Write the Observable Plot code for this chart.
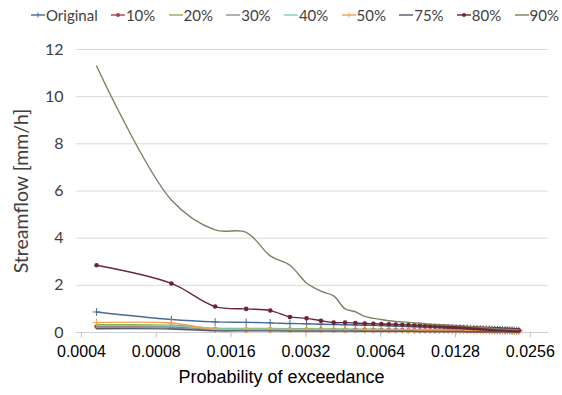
<!DOCTYPE html>
<html>
<head>
<meta charset="utf-8">
<script src="https://cdn.jsdelivr.net/npm/d3@7"></script>
<script src="https://cdn.jsdelivr.net/npm/@observablehq/plot@0.6"></script>
<style>
  html, body { margin: 0; padding: 0; background: #fff; }
  #wrap { width: 562px; height: 395px; position: relative; overflow: hidden; }
  #legend { height: 30px; display: flex; justify-content: space-between; align-items: center;
            padding: 0 3px 0 31px; box-sizing: border-box; font: 15px Lato, sans-serif; color: #404040; }
  .item { display: flex; align-items: center; white-space: nowrap; }
  .item svg { margin-right: 1px; }
</style>
</head>
<body>
<div id="wrap">
  <div id="legend"></div>
  <div id="chart"></div>
</div>
<script>
// Probability of exceedance for each ranked value
const probs = [0.00046, 0.00092, 0.00138, 0.00184, 0.0023, 0.00276, 0.00322, 0.00368, 0.00414, 0.0046,
  0.00506, 0.00552, 0.00598, 0.00644, 0.0069, 0.00736, 0.00782, 0.00828, 0.00874, 0.0092,
  0.00966, 0.01012, 0.01058, 0.01104, 0.0115, 0.01196, 0.01242, 0.01288, 0.01334, 0.0138,
  0.01426, 0.01472, 0.01518, 0.01564, 0.0161, 0.01656, 0.01702, 0.01748, 0.01794, 0.0184,
  0.01886, 0.01932, 0.01978, 0.02024, 0.0207, 0.02116, 0.02162, 0.02208, 0.02254, 0.023];

const seriesNames = ["Original", "10%", "20%", "30%", "40%", "50%", "75%", "80%", "90%"];

const original = [0.87, 0.55, 0.45, 0.43, 0.41, 0.38, 0.37, 0.35, 0.34, 0.33,
  0.32, 0.31, 0.30, 0.29, 0.28, 0.27, 0.26, 0.25, 0.245, 0.24,
  0.23, 0.22, 0.215, 0.21, 0.20, 0.195, 0.19, 0.185, 0.18, 0.175,
  0.17, 0.165, 0.16, 0.155, 0.15, 0.145, 0.14, 0.135, 0.13, 0.125,
  0.12, 0.115, 0.11, 0.105, 0.10, 0.098, 0.095, 0.092, 0.09, 0.088];
const p10 = [0.25, 0.24, 0.14, 0.13, 0.13, 0.12, 0.12, 0.12, 0.11, 0.11,
  0.11, 0.11, 0.10, 0.10, 0.10, 0.10, 0.10, 0.09, 0.09, 0.09,
  0.09, 0.09, 0.09, 0.08, 0.08, 0.08, 0.08, 0.08, 0.08, 0.08,
  0.07, 0.07, 0.07, 0.07, 0.07, 0.07, 0.07, 0.07, 0.06, 0.06,
  0.06, 0.06, 0.06, 0.06, 0.06, 0.06, 0.06, 0.05, 0.05, 0.05];
const p20 = [0.33, 0.31, 0.18, 0.17, 0.17, 0.16, 0.16, 0.15, 0.15, 0.15,
  0.14, 0.14, 0.14, 0.13, 0.13, 0.13, 0.12, 0.12, 0.12, 0.12,
  0.11, 0.11, 0.11, 0.11, 0.10, 0.10, 0.10, 0.10, 0.10, 0.09,
  0.09, 0.09, 0.09, 0.09, 0.08, 0.08, 0.08, 0.08, 0.08, 0.08,
  0.07, 0.07, 0.07, 0.07, 0.07, 0.07, 0.06, 0.06, 0.06, 0.06];
const p30 = [0.20, 0.19, 0.10, 0.09, 0.09, 0.09, 0.08, 0.08, 0.08, 0.08,
  0.07, 0.07, 0.07, 0.07, 0.07, 0.06, 0.06, 0.06, 0.06, 0.06,
  0.06, 0.05, 0.05, 0.05, 0.05, 0.05, 0.05, 0.05, 0.05, 0.04,
  0.04, 0.04, 0.04, 0.04, 0.04, 0.04, 0.04, 0.04, 0.04, 0.04,
  0.03, 0.03, 0.03, 0.03, 0.03, 0.03, 0.03, 0.03, 0.03, 0.03];
const p40 = [0.28, 0.27, 0.16, 0.15, 0.15, 0.14, 0.14, 0.13, 0.13, 0.13,
  0.12, 0.12, 0.12, 0.11, 0.11, 0.11, 0.11, 0.10, 0.10, 0.10,
  0.10, 0.09, 0.09, 0.09, 0.09, 0.09, 0.08, 0.08, 0.08, 0.08,
  0.08, 0.08, 0.07, 0.07, 0.07, 0.07, 0.07, 0.07, 0.06, 0.06,
  0.06, 0.06, 0.06, 0.06, 0.06, 0.05, 0.05, 0.05, 0.05, 0.05];
const p50 = [0.42, 0.40, 0.13, 0.13, 0.13, 0.12, 0.12, 0.12, 0.12, 0.12,
  0.12, 0.11, 0.11, 0.11, 0.11, 0.11, 0.11, 0.11, 0.10, 0.10,
  0.10, 0.10, 0.10, 0.10, 0.10, 0.09, 0.09, 0.09, 0.09, 0.09,
  0.09, 0.09, 0.08, 0.08, 0.08, 0.08, 0.08, 0.08, 0.08, 0.07,
  0.07, 0.07, 0.07, 0.07, 0.07, 0.07, 0.06, 0.06, 0.06, 0.06];
const p75 = [0.16, 0.15, 0.07, 0.07, 0.07, 0.06, 0.06, 0.06, 0.06, 0.06,
  0.06, 0.05, 0.05, 0.05, 0.05, 0.05, 0.05, 0.05, 0.05, 0.04,
  0.04, 0.04, 0.04, 0.04, 0.04, 0.04, 0.04, 0.04, 0.04, 0.04,
  0.03, 0.03, 0.03, 0.03, 0.03, 0.03, 0.03, 0.03, 0.03, 0.03,
  0.03, 0.03, 0.03, 0.02, 0.02, 0.02, 0.02, 0.02, 0.02, 0.02];
const p80 = [2.85, 2.08, 1.10, 1.00, 0.93, 0.66, 0.60, 0.50, 0.42, 0.42,
  0.40, 0.38, 0.37, 0.36, 0.35, 0.34, 0.33, 0.32, 0.31, 0.30,
  0.29, 0.28, 0.27, 0.26, 0.25, 0.24, 0.235, 0.23, 0.22, 0.21,
  0.20, 0.19, 0.185, 0.18, 0.17, 0.165, 0.16, 0.155, 0.15, 0.145,
  0.14, 0.135, 0.13, 0.125, 0.12, 0.115, 0.11, 0.105, 0.10, 0.095];
const p90 = [11.3, 5.62, 4.35, 4.25, 3.25, 2.85, 2.10, 1.75, 1.55, 1.00,
  0.88, 0.68, 0.60, 0.55, 0.50, 0.47, 0.45, 0.43, 0.41, 0.39,
  0.37, 0.35, 0.34, 0.33, 0.32, 0.31, 0.30, 0.29, 0.28, 0.27,
  0.26, 0.25, 0.24, 0.23, 0.22, 0.21, 0.20, 0.19, 0.18, 0.17,
  0.16, 0.155, 0.15, 0.145, 0.14, 0.135, 0.13, 0.125, 0.12, 0.115];

const xTicks = [0.0004, 0.0008, 0.0016, 0.0032, 0.0064, 0.0128, 0.0256];
const xTickLabels = ["0.0004", "0.0008", "0.0016", "0.0032", "0.0064", "0.0128", "0.0256"];
const yTicks = [0, 2, 4, 6, 8, 10, 12];

const seriesValues = [original, p10, p20, p30, p40, p50, p75, p80, p90];
const colors = ["#4A6B94", "#A8404F", "#8DB048", "#9090A0", "#7FCBC2", "#F0A24E", "#4F5C6E", "#6B2536", "#7E8060"];
const markers = ["plus", "circle", null, null, null, "plus", null, "circle", null];

const rows = [];
seriesNames.forEach((name, si) => {
  seriesValues[si].forEach((v, i) => rows.push({series: name, p: probs[i], v}));
});

const marks = [
  Plot.gridY(yTicks, {stroke: "#d9d9d9", strokeOpacity: 1, strokeWidth: 1}),
  Plot.ruleY([0], {stroke: "#cfcfcf"}),
  Plot.ruleX(xTicks, {x: d => d, y1: 0, y2: -0.22, stroke: "#bdbdbd"})
];
seriesNames.forEach((name, si) => {
  const data = rows.filter(r => r.series === name);
  marks.push(Plot.line(data, {x: "p", y: "v", stroke: colors[si], strokeWidth: 1.4, curve: "catmull-rom"}));
  if (markers[si] === "circle") {
    marks.push(Plot.dot(data, {x: "p", y: "v", fill: colors[si], r: 2.3, symbol: "circle"}));
  } else if (markers[si] === "plus") {
    marks.push(Plot.dot(data, {x: "p", y: "v", stroke: colors[si], r: 2.6, symbol: "plus", strokeWidth: 1}));
  }
});

const chart = Plot.plot({
  width: 562,
  height: 365,
  marginLeft: 76,
  marginRight: 14,
  marginTop: 19,
  marginBottom: 63,
  x: {type: "log", base: 2, domain: [0.000382, 0.0303], label: null},
  y: {domain: [0, 12], label: null},
  style: {background: "#fff", overflow: "visible"},
  marks: [
    ...marks,
    Plot.axisX({ticks: xTicks, tickFormat: d => xTickLabels[xTicks.indexOf(d)], tickSize: 0, tickPadding: 13,
      fontSize: 16, fontFamily: "Liberation Sans, Arial, sans-serif", fill: "#000", label: null}),
    Plot.axisY({ticks: yTicks, tickSize: 0, tickPadding: 13, fontSize: 16, fontFamily: "Lato, sans-serif",
      fill: "#404040", label: null}),
    Plot.text(["Streamflow [mm/h]"], {frameAnchor: "left", textAnchor: "middle", dx: -55, rotate: -90, fontSize: 19.5,
      fontFamily: "Lato, sans-serif", fill: "#404040"}),
    Plot.text(["Probability of exceedance"], {frameAnchor: "bottom", dx: -31, dy: 50, fontSize: 18,
      fontFamily: "Liberation Sans, Arial, sans-serif", fill: "#000"})
  ]
});
document.getElementById("chart").appendChild(chart);

// Legend
const legend = d3.select("#legend");
seriesNames.forEach((name, si) => {
  const item = legend.append("div").attr("class", "item");
  const sw = item.append("svg").attr("width", 14).attr("height", 12);
  sw.append("line").attr("x1", 0).attr("x2", 14).attr("y1", 6).attr("y2", 6)
    .attr("stroke", colors[si]).attr("stroke-width", 1.4);
  if (markers[si] === "circle") {
    sw.append("circle").attr("cx", 7).attr("cy", 6).attr("r", 2).attr("fill", colors[si]);
  } else if (markers[si] === "plus") {
    sw.append("line").attr("x1", 7).attr("x2", 7).attr("y1", 3.5).attr("y2", 8.5)
      .attr("stroke", colors[si]).attr("stroke-width", 1);
  }
  item.append("span").text(name);
});
</script>
</body>
</html>
